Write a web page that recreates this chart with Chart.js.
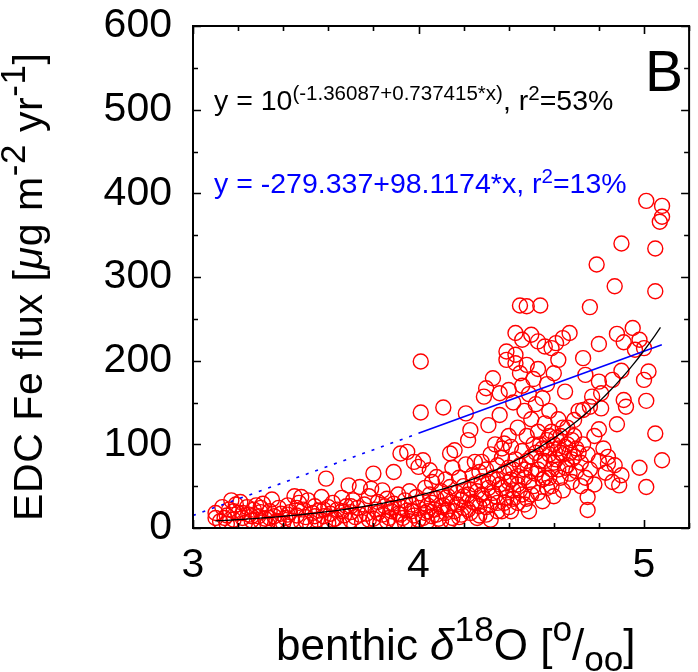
<!DOCTYPE html>
<html>
<head>
<meta charset="utf-8">
<script src="https://cdn.jsdelivr.net/npm/chart.js@4/dist/chart.umd.min.js"></script>
<style>
html,body{margin:0;padding:0;background:#fff;}
#wrap{position:relative;width:698px;height:672px;overflow:hidden;font-family:"Liberation Sans",Arial,Helvetica,sans-serif;}
#c{position:absolute;left:0;top:0;}
.t{position:absolute;white-space:nowrap;line-height:1;color:#000;}
.t sup{font-size:0.72em;vertical-align:0.5em;line-height:0;}
.t sub{font-size:0.8em;vertical-align:-0.3em;line-height:0;}
#xtitle sup{font-size:0.8em;vertical-align:0.55em;}
#ytitle sup{font-size:0.85em;vertical-align:0.5em;}
#ytitle{letter-spacing:0.6px;}
</style>
</head>
<body>
<div id="wrap">
<canvas id="c" width="698" height="672"></canvas>
<div class="t" id="eqExp" style="left:214px;top:86px;font-size:28.5px;color:#000;"></div>
<div class="t" id="eqLin" style="left:214px;top:169px;font-size:28.5px;color:#0000ff;"></div>
<div class="t" id="panel" style="left:645px;top:43px;font-size:57px;">B</div>
<div class="t" id="xtitle" style="left:276px;top:623px;font-size:44px;">benthic <i>δ</i><sup>18</sup>O [<sup>o</sup>/<sub>oo</sub>]</div>
<div class="t" id="ytitle" style="left:8px;top:521px;font-size:41px;transform:rotate(-90deg);transform-origin:0 0;">EDC Fe flux [<i>μ</i>g m<sup>-2</sup> yr<sup>-1</sup>]</div>
</div>
<script>
// ---- axis ticks ----
const xTickValues = [3, 4, 5];
const yTickValues = [0, 100, 200, 300, 400, 500, 600];
const xRange = [3, 5.2];
const yRange = [0, 600];
const xMinorStep = 0.2;
const yMinorStep = 50;

// ---- fit results shown on the chart ----
const expFitCoef = [-1.36087, 0.737415];   // y = 10^(a + b*x)
const expFitR2 = 53;
const expFitSpan = [3.10, 5.073];
const linFitCoef = [-279.337, 98.1174];     // y = a + b*x
const linFitR2 = 13;
const linSolidSpan = [4.0, 5.079];
const linDottedSpan = [3.0, 4.0];

// ---- samples: benthic d18O (x) and EDC Fe flux (y) ----
const benthicD18O = [
  3.10,3.10,3.12,3.13,3.15,3.15,3.16,3.17,3.18,3.19,3.20,3.21,3.22,3.23,3.24,3.25,3.26,3.27,3.28,3.29,3.30,3.30,
  3.31,3.32,3.33,3.34,3.35,3.36,3.37,3.38,3.39,3.40, 3.41,3.42,3.43,3.44,3.45,3.46,3.47,3.48,3.48,3.49,
  3.50,3.51,3.52,3.53,3.54,3.55,3.56,3.57,3.58,3.59, 3.60,3.60,
  3.61,3.62,3.63,3.64,3.65,3.66,3.67,3.68,3.69,3.70, 3.70,3.71,3.72,3.73,3.74,3.75,3.76,3.77,3.78,3.79,
  3.80,3.80,3.81,3.82,3.83,3.84,3.84,3.85,3.86,3.87, 3.88,3.89,3.89,3.90,
  3.91,3.91,3.92,3.92,3.93,3.94,3.95,3.95,3.96,3.96, 3.97,3.98,3.98,3.99,4.00,4.00,
  4.00,4.01,4.01,4.02,4.02,4.03,4.03,4.04,4.04,4.05, 4.05,4.06,4.06,4.07,4.08,4.08,4.09,4.10,4.11,4.11,
  4.12,4.12,4.13,4.14,4.14,4.15,4.15,4.14,4.16,4.16, 4.17,4.18,4.18,4.19,4.20,4.20,
  4.21,4.21,4.22,4.22,4.23,4.23,4.24,4.24,4.25,4.25, 4.26,4.26,4.27,4.27,4.28,4.28,4.29,4.29,4.30,4.30,
  4.30,4.31,4.31,4.32,4.32,4.33,4.33,4.34,4.34,4.35, 4.35,4.36,4.36,4.36,4.37,4.37,4.38,4.38,4.38,4.39,
  4.39,4.39,4.40,4.40,4.40,4.40,
  4.41,4.41,4.42,4.42,4.43,4.43,4.43,4.43,4.44,4.44, 4.45,4.45,4.45,4.46,4.46,4.46,4.47,4.47,4.47,4.48,
  4.48,4.48,4.49,4.49,4.50,4.50,4.50,4.50,4.51,4.51, 4.52,4.52,4.53,4.53,4.53,4.54,4.54,4.55,4.55,4.55,
  4.56,4.56,4.56,4.57,4.57,4.57,4.58,4.58,4.59,4.59, 4.59,4.60,4.60,4.60,
  4.61,4.61,4.62,4.62,4.62,4.63,4.63,4.64,4.64,4.64, 4.65,4.65,4.66,4.66,4.67,4.67,4.68,4.68,4.69,4.69,
  4.70,4.70,4.71,4.71,4.72,4.72,4.73,4.73,4.73,4.74, 4.74,4.75,4.75,4.75,4.76,4.76,4.76,4.77,4.78,4.78,
  4.79,4.80,4.80,4.80,4.80,
  4.81,4.81,4.82,4.83,4.84,4.84,4.86,4.86,4.87,4.87, 4.88,4.88,4.89,4.90,4.90,4.90,4.91,4.91,4.92,4.95,
  4.96,4.98,4.98,5.00,5.00,5.01,5.01,5.01,5.02,5.05, 5.05,5.05,5.07,5.08,5.08,5.08,
  4.02,4.04,4.06,4.08,4.10,4.10,4.12,4.13,4.15,4.17, 4.19,4.20,4.22,4.23,4.25,4.27,4.28,4.30,4.31,4.32,
  4.33,4.35,4.35,4.37,4.37,4.39,4.40,4.41,4.42,4.42, 4.44,4.44,4.45,4.46,4.47,4.48,4.48,4.49,4.50,4.51,
  4.52,4.53,4.53,4.54,4.55,4.56,4.57,4.58,4.58,4.59, 4.60,4.61,4.62,4.63,4.64,4.65,4.66,4.67,4.68,4.69,
  3.14,3.18,3.22,3.26,3.30,3.34,3.38,3.42,3.46,3.50, 3.54,3.58,3.62,3.66,3.70,3.74,3.78,3.82,3.86,3.88,
  3.92,3.94,3.97
];
const feFlux = [
  12,18,8,25,15,5,22,33,10,28,18,31,12,6,25,16,9,22,27,14,8,19,
  29,11,5,20,34,14,8,24,17,6, 12,27,19,9,38,15,30,7,37,22,
  13,33,4,18,26,10,21,37,14,59, 6,25,
  17,30,11,22,5,36,15,26,51,9, 19,33,13,24,49,7,28,17,38,47,
  11,65,22,31,6,45,16,26,35,12, 20,67,29,8,
  40,17,89,25,12,33,91,21,44,8, 28,79,15,37,24,10,
  73,199,138,81,33,18,48,8,27,69, 40,14,55,22,61,35,11,44,144,27,
  18,58,38,9,49,30,72,89,20,93, 42,13,60,34,50,24,
  137,76,105,40,117,18,63,31,79,52, 12,44,67,26,79,56,157,35,167,70,
  16,123,48,88,28,179,60,38,100,75, 20,161,135,52,95,84,30,66,101,211,
  201,45,165,110,72,25,
  97,58,150,35,233,207,197,82,120,62, 185,45,266,225,170,92,140,70,28,265,
  195,110,55,160,231,130,85,40,178,100, 65,148,223,190,115,266,80,32,155,95,
  217,125,60,172,105,48,88,140,215,70, 115,100,38,185,
  221,82,201,130,95,60,110,227,88,45, 163,97,75,120,233,90,55,105,129,85,
  95,68,140,90,78,50,141,203,100,183, 60,37,21.5,88,264,145,70,157,110,52,
  315,175,118,220,80,
  161,143,95,66,85,77,177,55,289,75, 232,124,51,188,340,63,222,153,145,239,
  213,225,72,177,215,152,391,49,187,334, 283,113,366,372,385,81,
  12,20,30,16,8,25,36,22,12,28, 16,38,22,46,30,15,40,25,55,10,
  42,30,58,20,48,36,55,20,45,70, 30,52,75,40,60,35,80,20,68,50,
  90,42,70,100,58,80,95,60,110,50, 78,108,70,90,120,72,100,65,82,110,
  12,20,18,14,24,12,8,16,24,8, 14,22,10,20,26,16,10,18,8,24,
  16,6,20
];

// ---- equation labels (text built from the fit coefficients) ----
document.getElementById('eqExp').innerHTML =
  'y = 10<sup>(' + expFitCoef[0] + '+' + expFitCoef[1] + '*x)</sup>, r<sup>2</sup>=' + expFitR2 + '%';
document.getElementById('eqLin').innerHTML =
  'y = ' + linFitCoef[0] + '+' + linFitCoef[1] + '*x, r<sup>2</sup>=' + linFitR2 + '%';

const scatterPts = benthicD18O.map((x, i) => ({x: x, y: feFlux[i]}));

function expCurve(span) {
  const pts = [];
  const n = 80;
  for (let i = 0; i <= n; i++) {
    const x = span[0] + (span[1] - span[0]) * i / n;
    pts.push({x: x, y: Math.pow(10, expFitCoef[0] + expFitCoef[1] * x)});
  }
  return pts;
}
function linLine(span) {
  return span.map(x => ({x: x, y: linFitCoef[0] + linFitCoef[1] * x}));
}

const FONT = "'Liberation Sans', Arial, Helvetica, sans-serif";

const frameTicks = {
  id: 'frameTicks',
  afterDatasetsDraw(chart) {
    const {ctx, chartArea: a, scales: {x, y}} = chart;
    ctx.save();
    ctx.strokeStyle = '#000';
    ctx.lineWidth = 1.6;
    ctx.beginPath();
    const nx = Math.round((xRange[1] - xRange[0]) / xMinorStep);
    for (let i = 0; i <= nx; i++) {
      const v = xRange[0] + i * xMinorStep;
      const major = xTickValues.some(t => Math.abs(t - v) < 1e-6);
      const L = major ? 8 : 5;
      const px = Math.round(x.getPixelForValue(v)) + 0.5;
      ctx.moveTo(px, a.bottom); ctx.lineTo(px, a.bottom - L);
      ctx.moveTo(px, a.top); ctx.lineTo(px, a.top + L);
    }
    const ny = Math.round((yRange[1] - yRange[0]) / yMinorStep);
    for (let i = 0; i <= ny; i++) {
      const v = yRange[0] + i * yMinorStep;
      const major = yTickValues.some(t => Math.abs(t - v) < 1e-6);
      const L = major ? 8 : 5;
      const py = Math.round(y.getPixelForValue(v)) + 0.5;
      ctx.moveTo(a.left, py); ctx.lineTo(a.left + L, py);
      ctx.moveTo(a.right, py); ctx.lineTo(a.right - L, py);
    }
    ctx.stroke();
    ctx.lineWidth = 2;
    ctx.strokeRect(a.left, a.top, a.right - a.left, a.bottom - a.top);
    ctx.restore();
  }
};

new Chart(document.getElementById('c'), {
  type: 'scatter',
  data: {
    datasets: [
      {type: 'line', data: expCurve(expFitSpan), borderColor: '#000000', borderWidth: 1.3,
       pointRadius: 0, fill: false, tension: 0, order: 0},
      {type: 'line', data: linLine(linSolidSpan), borderColor: '#0000ff', borderWidth: 1.6,
       pointRadius: 0, fill: false, order: 1},
      {type: 'line', data: linLine(linDottedSpan), borderColor: '#0000ff', borderWidth: 1.6,
       borderDash: [3, 7], pointRadius: 0, fill: false, order: 2},
      {type: 'scatter', data: scatterPts, pointStyle: 'circle', pointRadius: 7.5,
       borderColor: '#ff0000', backgroundColor: 'rgba(0,0,0,0)', borderWidth: 1.4, order: 3, clip: 0}
    ]
  },
  options: {
    responsive: false,
    animation: false,
    devicePixelRatio: 1,
    layout: {padding: {left: 0, top: 26, right: 2, bottom: 0}},
    plugins: {legend: {display: false}, tooltip: {enabled: false}},
    scales: {
      x: {
        type: 'linear', min: xRange[0], max: xRange[1],
        afterBuildTicks: s => { s.ticks = xTickValues.map(v => ({value: v})); },
        afterFit: s => { s.height = 144; s.paddingLeft = 0; s.paddingRight = 0; },
        ticks: {font: {family: FONT, size: 41}, color: '#000', padding: 13, maxRotation: 0, autoSkip: false,
                callback: v => String(v)},
        grid: {display: false, drawTicks: false},
        border: {display: false}
      },
      y: {
        type: 'linear', min: yRange[0], max: yRange[1],
        afterBuildTicks: s => { s.ticks = yTickValues.map(v => ({value: v})); },
        afterFit: s => { s.width = 193; s.paddingTop = 0; s.paddingBottom = 0; },
        ticks: {font: {family: FONT, size: 41}, color: '#000', padding: 21, autoSkip: false,
                callback: v => String(v)},
        grid: {display: false, drawTicks: false},
        border: {display: false}
      }
    }
  },
  plugins: [frameTicks]
});
</script>
</body>
</html>
